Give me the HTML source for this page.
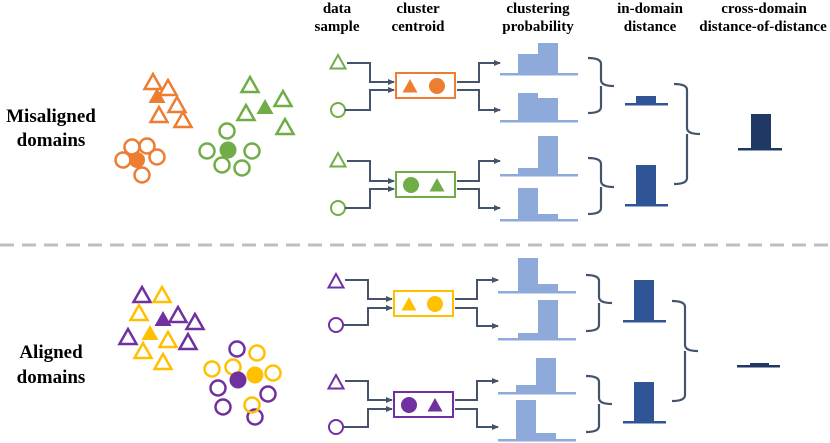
<!DOCTYPE html>
<html><head><meta charset="utf-8"><style>
html,body{margin:0;padding:0;background:#fff;width:830px;height:443px;overflow:hidden}
text{font-family:"Liberation Serif",serif;font-weight:bold;fill:#000}
</style></head><body>
<svg width="830" height="443" viewBox="0 0 830 443" xmlns="http://www.w3.org/2000/svg">
<defs>
<polygon id="tri" points="0,-8 -8.5,7 8.5,7"/>
<polygon id="tris" points="0,-7 -7.5,6.5 7.5,6.5"/>
<marker id="ar" markerWidth="8" markerHeight="8" refX="6" refY="4" orient="auto" markerUnits="userSpaceOnUse"><path d="M0,1 L7,4 L0,7 z" fill="#44546a"/></marker>
</defs>
<!-- headers -->
<g font-size="15" text-anchor="middle">
<text x="337" y="13">data</text><text x="337" y="31">sample</text>
<text x="418" y="13">cluster</text><text x="418" y="31">centroid</text>
<text x="538" y="13">clustering</text><text x="538" y="31">probability</text>
<text x="650" y="13">in-domain</text><text x="650" y="31">distance</text>
<text x="764" y="13">cross-domain</text><text x="763" y="31">distance-of-distance</text>
</g>
<g font-size="19" text-anchor="middle">
<text x="51" y="122">Misaligned</text><text x="51" y="146">domains</text>
<text x="51" y="358">Aligned</text><text x="51" y="383">domains</text>
</g>
<!-- dashed separator -->
<line x1="0" y1="245" x2="830" y2="245" stroke="#bfbfbf" stroke-width="3" stroke-dasharray="14,8"/>

<!-- top scatter -->
<g fill="none" stroke="#ed7d31" stroke-width="2.5">
<use href="#tri" x="153" y="82"/><use href="#tri" x="168" y="88"/><use href="#tri" x="177" y="105"/><use href="#tri" x="159" y="115"/><use href="#tri" x="183" y="120"/>
<circle cx="132" cy="147" r="7.5"/><circle cx="147" cy="146" r="7.5"/><circle cx="157" cy="157" r="7.5"/><circle cx="123" cy="160" r="7.5"/><circle cx="142" cy="175" r="7.5"/>
</g>
<use href="#tri" x="157" y="96" fill="#ed7d31"/>
<circle cx="137" cy="160" r="8" fill="#ed7d31"/>
<g fill="none" stroke="#70ad47" stroke-width="2.5">
<use href="#tri" x="250" y="85"/><use href="#tri" x="283" y="99"/><use href="#tri" x="246" y="113"/><use href="#tri" x="285" y="127"/>
<circle cx="227" cy="131" r="7.5"/><circle cx="207" cy="151" r="7.5"/><circle cx="252" cy="151" r="7.5"/><circle cx="222" cy="165" r="7.5"/><circle cx="242" cy="168" r="7.5"/>
</g>
<use href="#tri" x="265" y="107" fill="#70ad47"/>
<circle cx="228" cy="150" r="8.5" fill="#70ad47"/>

<!-- bottom scatter -->
<g fill="none" stroke-width="2.5">
<g stroke="#7030a0"><use href="#tri" x="142" y="295"/><use href="#tri" x="195" y="322"/><use href="#tri" x="178" y="315"/><use href="#tri" x="128" y="337"/><use href="#tri" x="188" y="342"/>
<circle cx="237" cy="349" r="7.5"/><circle cx="218" cy="388" r="7.5"/><circle cx="268" cy="394" r="7.5"/><circle cx="223" cy="407" r="7.5"/><circle cx="255" cy="417" r="7.5"/></g>
<g stroke="#ffc000"><use href="#tri" x="162" y="295"/><use href="#tri" x="139" y="313"/><use href="#tri" x="168" y="340"/><use href="#tri" x="143" y="351"/><use href="#tri" x="163" y="362"/>
<circle cx="257" cy="353" r="7.5"/><circle cx="212" cy="369" r="7.5"/><circle cx="233" cy="367" r="7.5"/><circle cx="273" cy="373" r="7.5"/><circle cx="252" cy="405" r="7.5"/></g>
</g>
<use href="#tri" x="163" y="319" fill="#7030a0"/>
<use href="#tri" x="150" y="333" fill="#ffc000"/>
<circle cx="255" cy="375" r="8.5" fill="#ffc000"/>
<circle cx="238" cy="380" r="8.5" fill="#7030a0"/>

<!-- pipelines -->
<g fill="none" stroke-width="2">
<use href="#tris" x="338" y="62" stroke="#70ad47"/><circle cx="338" cy="110" r="7" stroke="#70ad47"/>
<rect x="396" y="73" width="59" height="25" stroke="#ed7d31"/>
<use href="#tris" x="338" y="160" stroke="#70ad47"/><circle cx="338" cy="208" r="7" stroke="#70ad47"/>
<rect x="396" y="172" width="59" height="25" stroke="#70ad47"/>
<use href="#tris" x="336" y="281" stroke="#7030a0"/><circle cx="336" cy="325" r="7" stroke="#7030a0"/>
<rect x="394" y="291" width="59" height="25" stroke="#ffc000"/>
<use href="#tris" x="336" y="382" stroke="#7030a0"/><circle cx="336" cy="427" r="7" stroke="#7030a0"/>
<rect x="394" y="392" width="59" height="25" stroke="#7030a0"/>
</g>
<use href="#tris" x="410" y="86" fill="#ed7d31"/><circle cx="437" cy="86" r="8" fill="#ed7d31"/>
<circle cx="411" cy="185" r="8" fill="#70ad47"/><use href="#tris" x="437" y="185" fill="#70ad47"/>
<use href="#tris" x="409" y="304" fill="#ffc000"/><circle cx="435" cy="304" r="8" fill="#ffc000"/>
<circle cx="409" cy="405" r="8" fill="#7030a0"/><use href="#tris" x="435" y="405" fill="#7030a0"/>

<g fill="none" stroke="#44546a" stroke-width="2" marker-end="url(#ar)">
<path d="M347,63 H370 V82 H394"/><path d="M345,110 H370 V90 H394"/>
<path d="M457,82 H479 V63 H500"/><path d="M457,90 H479 V110 H500"/>
<path d="M347,161 H370 V181 H394"/><path d="M345,208 H370 V189 H394"/>
<path d="M457,181 H479 V161 H500"/><path d="M457,189 H479 V208 H500"/>
<path d="M345,280 H368 V299 H392"/><path d="M343,325 H368 V308 H392"/>
<path d="M455,299 H477 V280 H498"/><path d="M455,308 H477 V326 H498"/>
<path d="M345,381 H368 V400 H392"/><path d="M343,427 H368 V409 H392"/>
<path d="M455,400 H477 V381 H498"/><path d="M455,409 H477 V427 H498"/>
</g>

<!-- histograms -->
<g fill="#8eaadb">
<rect x="500" y="73" width="78" height="2.5"/><rect x="518" y="54" width="20" height="20"/><rect x="538" y="43" width="20" height="31"/>
<rect x="500" y="120" width="78" height="2.5"/><rect x="518" y="93" width="20" height="28"/><rect x="538" y="98" width="20" height="23"/>
<rect x="500" y="174" width="78" height="2.5"/><rect x="518" y="168" width="20" height="7"/><rect x="538" y="136" width="20" height="39"/>
<rect x="500" y="219" width="78" height="2.5"/><rect x="518" y="188" width="20" height="32"/><rect x="538" y="214" width="20" height="6"/>
<rect x="498" y="291" width="78" height="2.5"/><rect x="518" y="258" width="20" height="34"/><rect x="538" y="284" width="20" height="8"/>
<rect x="498" y="338" width="78" height="2.5"/><rect x="518" y="333" width="20" height="6"/><rect x="538" y="300" width="20" height="39"/>
<rect x="498" y="392" width="78" height="2.5"/><rect x="516" y="385" width="20" height="8"/><rect x="536" y="358" width="20" height="35"/>
<rect x="498" y="439" width="78" height="2.5"/><rect x="516" y="400" width="20" height="40"/><rect x="536" y="433" width="20" height="7"/>
</g>

<!-- braces -->
<g fill="none" stroke="#44546a" stroke-width="2.2">
<path d="M588,58 Q601,58 601,64 V80 Q601,86 614,86 M601,86 Q601,86 601,92 V107 Q601,113 588,113"/>
<path d="M588,158 Q601,158 601,164 V181 Q601,187 614,187 M601,187 V208 Q601,214 588,214"/>
<path d="M586,275 Q599,275 599,281 V297 Q599,303 612,303 M599,303 V325 Q599,331 586,331"/>
<path d="M586,376 Q599,376 599,382 V398 Q599,404 612,404 M599,404 V426 Q599,432 586,432"/>
<path d="M674,84 Q687,84 687,90 V128 Q687,134 700,134 M687,134 V178 Q687,184 674,184"/>
<path d="M672,301 Q685,301 685,307 V345 Q685,351 698,351 M685,351 V395 Q685,401 672,401"/>
</g>

<!-- in-domain -->
<g fill="#2f5597">
<rect x="625" y="103" width="43" height="2.5"/><rect x="636" y="96" width="20" height="8"/>
<rect x="625" y="204" width="43" height="2.5"/><rect x="636" y="165" width="20" height="40"/>
<rect x="623" y="320" width="43" height="2.5"/><rect x="634" y="280" width="20" height="41"/>
<rect x="623" y="421" width="43" height="2.5"/><rect x="634" y="382" width="20" height="40"/>
</g>
<g fill="#203864">
<rect x="738" y="148" width="44" height="2.5"/><rect x="751" y="114" width="20" height="35"/>
<rect x="737" y="365" width="43" height="2.5"/><rect x="750" y="363" width="19" height="3"/>
</g>
</svg>
</body></html>
